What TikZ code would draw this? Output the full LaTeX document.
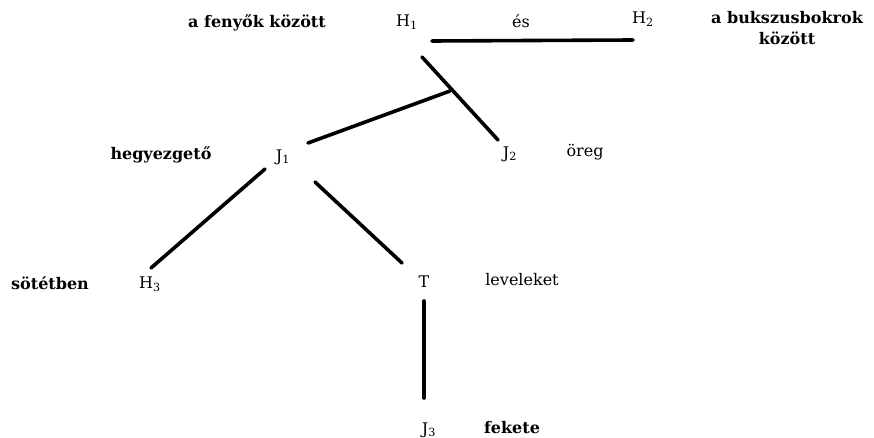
\documentclass[tikz,border=0pt]{standalone}
\usepackage{fontspec}
\setmainfont{DejaVu Serif}
\begin{document}
\begin{tikzpicture}[x=1pt,y=-1pt,
  sym/.style={font=\fontsize{16}{18}\selectfont, inner sep=0pt},
  word/.style={font=\fontsize{16}{18}\selectfont\bfseries, inner sep=0pt, align=center},
  link/.style={line width=3.6pt, line cap=round}]
\useasboundingbox (0,0) rectangle (874,438);
% nodes
\node[sym] (H1) at (407,22) {H\textsubscript{1}};
\node[sym] (H2) at (643,19) {H\textsubscript{2}};
\node[sym] (es) at (521,21) {és};
\node[word] (l1) at (257,23) {a fenyők között};
\node[word] (l2) at (787,28) {a bukszusbokrok\\[3pt]között};
\node[sym] (J1) at (283,157) {J\textsubscript{1}};
\node[sym] (J2) at (510,154) {J\textsubscript{2}};
\node[word] (l3) at (161,155) {hegyezgető};
\node[sym] (l4) at (585,152) {öreg};
\node[sym] (H3) at (150,284) {H\textsubscript{3}};
\node[word] (l5) at (50,283) {sötétben};
\node[sym] (T) at (424,282) {T};
\node[sym] (l6) at (522,280) {leveleket};
\node[sym] (J3) at (429,430) {J\textsubscript{3}};
\node[word] (l7) at (512,428) {fekete};
% line ends
\coordinate (a1) at (432,41);
\coordinate (a2) at (633,40);
\coordinate (b1) at (422,57);
\coordinate (b2) at (498,140);
\coordinate (jn) at (450,91);
\coordinate (c1) at (308,143);
\coordinate (d1) at (265,169);
\coordinate (d2) at (151,268);
\coordinate (e1) at (315,182);
\coordinate (e2) at (402,263);
\coordinate (f1) at (424,301);
\coordinate (f2) at (424,398);
% connectors
\draw[link] (a1) -- (a2);
\draw[link] (b1) -- (b2);
\draw[link] (c1) -- (jn);
\draw[link] (d1) -- (d2);
\draw[link] (e1) -- (e2);
\draw[link] (f1) -- (f2);
\end{tikzpicture}
\end{document}
